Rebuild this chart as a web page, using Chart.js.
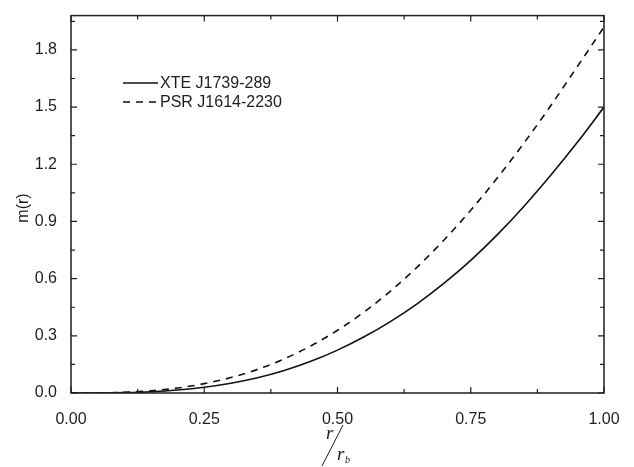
<html lang="en">
<head>
  <meta charset="UTF-8">
  <title>m(r)</title>
  <style>
    html, body { margin: 0; padding: 0; background: #fff; }
    #wrap { width: 634px; height: 467px; }
  </style>
</head>
<body>
<div id="wrap"><canvas id="massChart"></canvas></div>
<script src="https://cdn.jsdelivr.net/npm/chart.js@4.4.1/dist/chart.umd.min.js"></script>
<script>
  // radius in units of r_b
  const radius = [0, 0.05, 0.10, 0.15, 0.20, 0.25, 0.30, 0.35, 0.40, 0.45, 0.50,
                  0.55, 0.60, 0.65, 0.70, 0.75, 0.80, 0.85, 0.90, 0.95, 1.00];
  const massXTE = [0, 0.0003, 0.002, 0.0067, 0.016, 0.0305, 0.0515, 0.080, 0.118, 0.166, 0.225,
                   0.295, 0.376, 0.469, 0.576, 0.696, 0.831, 0.980, 1.142, 1.315, 1.500];
  const massPSR = [0, 0.0005, 0.0038, 0.0114, 0.026, 0.049, 0.081, 0.124, 0.179, 0.247, 0.329,
                   0.425, 0.536, 0.662, 0.803, 0.959, 1.129, 1.312, 1.507, 1.713, 1.920];
  const seriesNames = ['XTE J1739-289', 'PSR J1614-2230'];

  const xTicks = [0, 0.25, 0.50, 0.75, 1.00];
  const xMinor = [0.125, 0.375, 0.625, 0.875];
  const yTicks = [0, 0.3, 0.6, 0.9, 1.2, 1.5, 1.8];
  const yMinor = [0.15, 0.45, 0.75, 1.05, 1.35, 1.65, 1.95];

  const FONT = '"Liberation Sans", Arial, sans-serif';
  const INK = '#1e1e1e';

  const toPoints = arr => radius.map((r, i) => ({x: r, y: arr[i]}));

  // box + inward ticks, legend, axis titles
  const decorations = {
    id: 'decorations',
    afterDatasetsDraw(chart) {
      const {ctx, chartArea: a, scales: {x, y}} = chart;
      ctx.save();
      ctx.strokeStyle = INK;
      ctx.lineWidth = 1.5;
      ctx.strokeRect(a.left, a.top, a.right - a.left, a.bottom - a.top);

      ctx.lineWidth = 1.2;
      const vtick = (v, len) => {
        const px = x.getPixelForValue(v);
        ctx.beginPath();
        ctx.moveTo(px, a.bottom); ctx.lineTo(px, a.bottom - len);
        ctx.moveTo(px, a.top); ctx.lineTo(px, a.top + len);
        ctx.stroke();
      };
      const htick = (v, len) => {
        const py = y.getPixelForValue(v);
        ctx.beginPath();
        ctx.moveTo(a.left, py); ctx.lineTo(a.left + len, py);
        ctx.moveTo(a.right, py); ctx.lineTo(a.right - len, py);
        ctx.stroke();
      };
      xTicks.forEach(v => vtick(v, 6));
      xMinor.forEach(v => vtick(v, 4));
      yTicks.forEach(v => htick(v, 6));
      yMinor.forEach(v => htick(v, 4));

      // legend
      ctx.font = '16px ' + FONT;
      ctx.fillStyle = INK;
      ctx.textBaseline = 'middle';
      chart.data.datasets.forEach((ds, i) => {
        const ly = 83 + i * 19;
        ctx.strokeStyle = '#111';
        ctx.lineWidth = 1.6;
        ctx.setLineDash(ds.borderDash || []);
        ctx.beginPath();
        ctx.moveTo(123, ly); ctx.lineTo(158, ly);
        ctx.stroke();
        ctx.setLineDash([]);
        ctx.fillText(ds.label, 160, ly + 1);
      });

      // y title
      ctx.save();
      ctx.translate(24, 208);
      ctx.rotate(-Math.PI / 2);
      ctx.textAlign = 'center';
      ctx.fillText('m(r)', 0, 0);
      ctx.restore();

      // x title: r / r_b
      ctx.font = 'italic 19px "Liberation Serif", "Times New Roman", serif';
      ctx.textBaseline = 'alphabetic';
      ctx.fillText('r', 326, 439);
      ctx.fillText('r', 337, 460);
      ctx.font = 'italic 10px "Liberation Serif", "Times New Roman", serif';
      ctx.fillText('b', 345, 463);
      ctx.lineWidth = 1;
      ctx.strokeStyle = INK;
      ctx.beginPath();
      ctx.moveTo(322, 466); ctx.lineTo(343, 425);
      ctx.stroke();
      ctx.restore();
    }
  };

  new Chart(document.getElementById('massChart'), {
    type: 'line',
    data: {
      datasets: [{
        label: seriesNames[0],
        data: toPoints(massXTE),
        borderColor: '#111',
        borderWidth: 1.6,
        pointRadius: 0,
        cubicInterpolationMode: 'monotone'
      }, {
        label: seriesNames[1],
        data: toPoints(massPSR),
        borderColor: '#111',
        borderWidth: 1.6,
        borderDash: [7, 6],
        pointRadius: 0,
        cubicInterpolationMode: 'monotone'
      }]
    },
    options: {
      responsive: true,
      maintainAspectRatio: false,
      animation: false,
      layout: { padding: { left: 0, top: 9, right: 30, bottom: 0 } },
      plugins: { legend: { display: false }, tooltip: { enabled: false } },
      scales: {
        x: {
          type: 'linear',
          min: 0,
          max: 1,
          afterBuildTicks: s => { s.ticks = xTicks.map(v => ({value: v})); },
          afterFit: s => { s.height = 74; },
          grid: { display: false },
          border: { display: false },
          ticks: {
            padding: 9,
            color: INK,
            font: { family: FONT, size: 16 },
            maxRotation: 0,
            callback: v => Number(v).toFixed(2)
          }
        },
        y: {
          min: 0,
          max: 1.98,
          afterBuildTicks: s => { s.ticks = yTicks.map(v => ({value: v})); },
          afterFit: s => { s.width = 71; },
          grid: { display: false },
          border: { display: false },
          ticks: {
            padding: 6,
            color: INK,
            font: { family: FONT, size: 16 },
            callback: v => Number(v).toFixed(1)
          }
        }
      }
    },
    plugins: [decorations]
  });
</script>
</body>
</html>
